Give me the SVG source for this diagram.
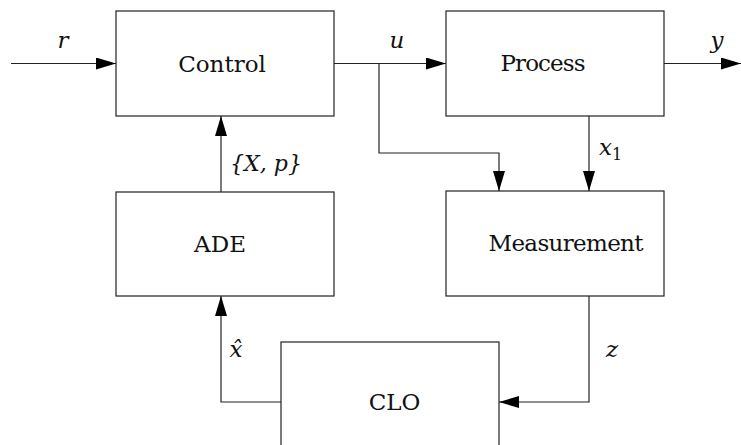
<svg xmlns="http://www.w3.org/2000/svg" width="741" height="445" viewBox="0 0 741 445">
<style>
.box{fill:#fff;stroke:#222;stroke-width:1.2}
.lbl{font-family:"DejaVu Serif",serif;font-size:23px;fill:#111;text-anchor:middle}
.mth{font-family:"DejaVu Serif",serif;font-size:23px;font-style:italic;fill:#111}
.sub{font-size:16px;font-style:normal}
.con{fill:none;stroke:#222;stroke-width:1.2}
</style>
<defs>
<marker id="arr" markerUnits="userSpaceOnUse" markerWidth="20" markerHeight="12" refX="20" refY="6" orient="auto">
<path d="M0,0 L20,6 L0,12 z" fill="#000"/>
</marker>
</defs>
<rect width="741" height="445" fill="#fff"/>
<g id="connectors">
<path class="con" d="M11,63.5 H116" marker-end="url(#arr)"/>
<path class="con" d="M334,63.5 H446" marker-end="url(#arr)"/>
<path class="con" d="M379,63.5 V153 H499 V191" marker-end="url(#arr)"/>
<path class="con" d="M664,63.5 H741" marker-end="url(#arr)"/>
<path class="con" d="M589,116 V191" marker-end="url(#arr)"/>
<path class="con" d="M221,192 V116" marker-end="url(#arr)"/>
<path class="con" d="M589,296 V402 H499" marker-end="url(#arr)"/>
<path class="con" d="M281,402 H221 V296" marker-end="url(#arr)"/>
<text class="mth" x="63" y="48" text-anchor="middle">r</text>
<text class="mth" x="397" y="48" text-anchor="middle">u</text>
<text class="mth" x="717" y="48" text-anchor="middle">y</text>
<text class="mth" x="599" y="155">x<tspan class="sub" dy="5">1</tspan></text>
<text class="mth" x="230" y="171" textLength="72" lengthAdjust="spacingAndGlyphs">{X, p}</text>
<text class="mth" x="612" y="357" text-anchor="middle">z</text>
<text class="mth" x="236" y="357" text-anchor="middle">x̂</text>
</g>
<g id="control">
<rect class="box" x="116" y="11" width="218" height="105"/>
<text class="lbl" x="222" y="72">Control</text>
</g>
<g id="process">
<rect class="box" x="446" y="11" width="218" height="105"/>
<text class="lbl" x="543" y="71" textLength="85" lengthAdjust="spacing">Process</text>
</g>
<g id="ade">
<rect class="box" x="116" y="192" width="218" height="104"/>
<text class="lbl" x="220" y="252">ADE</text>
</g>
<g id="measurement">
<rect class="box" x="446" y="191" width="218" height="105"/>
<text class="lbl" x="566" y="251" textLength="155" lengthAdjust="spacing">Measurement</text>
</g>
<g id="clo">
<rect class="box" x="281" y="342" width="218" height="110"/>
<text class="lbl" x="394.5" y="410">CLO</text>
</g>
</svg>
